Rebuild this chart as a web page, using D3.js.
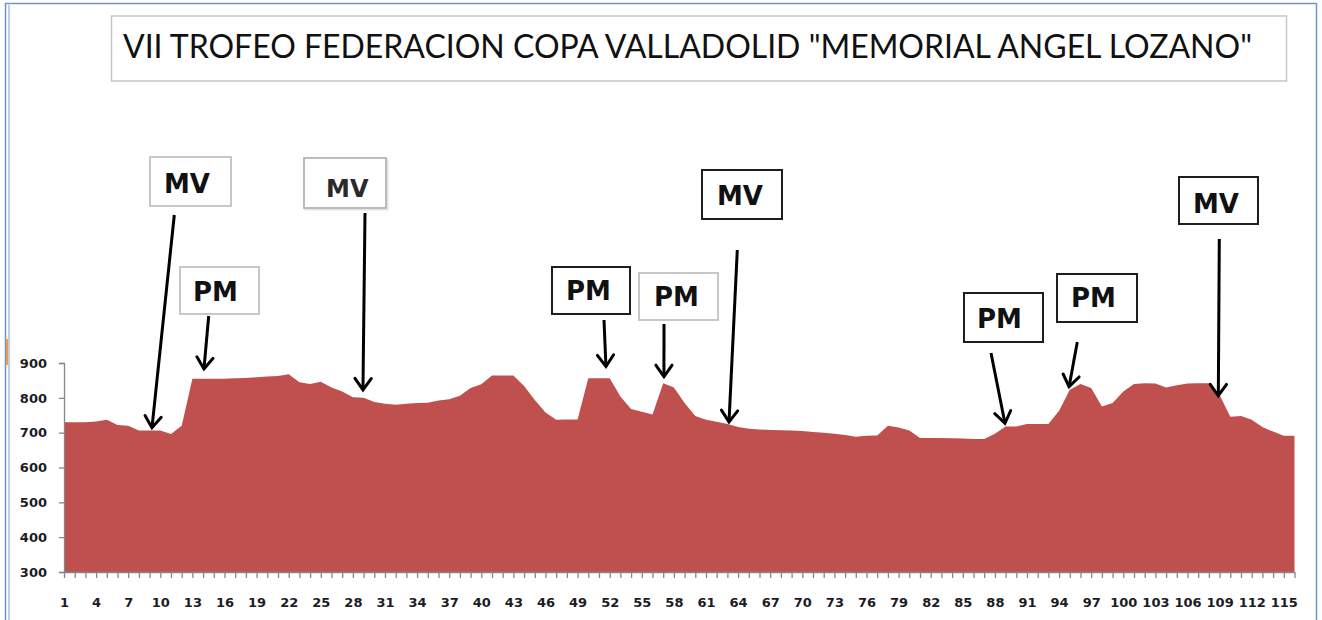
<!DOCTYPE html>
<html>
<head>
<meta charset="utf-8">
<script src="https://cdn.jsdelivr.net/npm/d3@7"></script>
<style>
  html, body { margin: 0; padding: 0; background: #fff; }
  svg { display: block; }
</style>
</head>
<body>
<svg id="chart" width="1322" height="620"></svg>
<script>
// ---------- data ----------
const title = 'VII TROFEO FEDERACION COPA VALLADOLID "MEMORIAL ANGEL LOZANO"';
const categories = d3.range(1, 117); // kilometre points 1..116
const altitude = [
  730, 730, 730, 732, 737, 722, 720, 706, 706, 706,
  696, 720, 855, 855, 855, 855, 856, 857, 859, 861,
  863, 868, 845, 840, 846, 830, 818, 802, 800, 788,
  783, 780, 783, 785, 786, 792, 796, 806, 828, 839,
  864, 864, 864, 834, 794, 758, 737, 738, 738, 856,
  856, 856, 804, 768, 760, 752, 842, 830, 785, 748,
  737, 731, 725, 716, 711, 709, 708, 707, 706, 705,
  702, 700, 697, 693, 688, 691, 692, 720, 715, 706,
  685, 685, 685, 684, 683, 682, 682, 697, 718, 718,
  725, 725, 725, 763, 823, 840, 828, 775, 785, 818,
  840, 842, 841, 830, 836, 841, 842, 842, 808, 746,
  748, 737, 716, 703, 691, 691
];
const yTicks = [300, 400, 500, 600, 700, 800, 900];
const xLabelStep = 3;

// annotation labels and the point (category position, altitude) each arrow indicates
const annLabels = ["MV", "PM", "MV", "PM", "PM", "MV", "PM", "PM", "MV"];
const annTargetCat = [9.22, 14.08, 28.94, 51.65, 57.07, 63.15, 88.94, 94.93, 108.88];
const annTargetAlt = [714, 883, 823, 890, 861, 731, 727, 832, 806];

// ---------- layout (pixels) ----------
const annLayout = [
  { box: [150, 157, 81, 49],  from: [174.3, 215], style: "gray",  tdx: 14, tdy: 36 },
  { box: [180, 267, 79, 47],  from: [208.7, 316], style: "gray",  tdx: 13, tdy: 34 },
  { box: [304, 158, 82, 50],  from: [365, 213],   style: "gray2", tdx: 22, tdy: 39 },
  { box: [552, 267, 78, 47],  from: [604, 320],   style: "black", tdx: 14, tdy: 33 },
  { box: [639, 273, 79, 47],  from: [664, 324],   style: "gray",  tdx: 15, tdy: 33 },
  { box: [702, 170, 80, 49],  from: [737.3, 250], style: "black", tdx: 15, tdy: 35 },
  { box: [964, 293, 79, 49],  from: [991, 353],   style: "black", tdx: 13, tdy: 35 },
  { box: [1057, 274, 80, 48], from: [1077.3, 342],style: "black", tdx: 14, tdy: 33 },
  { box: [1179, 177, 79, 47], from: [1219.3, 239],style: "black", tdx: 14, tdy: 36 }
];

const svg = d3.select("#chart");
const W = 1322, H = 620;

// outer chart frame
svg.append("rect").attr("x", 0).attr("y", 0).attr("width", W).attr("height", H).attr("fill", "#fff");
svg.append("rect")
  .attr("x", 5.5).attr("y", 3.5).attr("width", 1311).attr("height", 700)
  .attr("fill", "none").attr("stroke", "#6f95c9").attr("stroke-width", 1.5);
svg.append("line").attr("x1", 9).attr("x2", 9).attr("y1", 5).attr("y2", H)
  .attr("stroke", "#a9c1e2").attr("stroke-width", 1.5);
svg.append("line").attr("x1", 7).attr("x2", 7).attr("y1", 339).attr("y2", 365)
  .attr("stroke", "#f39a3c").attr("stroke-width", 2);

// title box
svg.append("rect")
  .attr("x", 111.5).attr("y", 16).attr("width", 1175).attr("height", 65)
  .attr("fill", "#fff").attr("stroke", "#c6c6c6").attr("stroke-width", 1.5);
svg.append("text")
  .attr("x", 123).attr("y", 57.5)
  .attr("font-family", "Lato, 'Open Sans', sans-serif")
  .attr("font-size", 33)
  .attr("fill", "#111")
  .attr("textLength", 1129)
  .attr("lengthAdjust", "spacingAndGlyphs")
  .text(title);

// ---------- scales ----------
const x = d3.scaleLinear().domain([1, 116]).range([64, 1294.5]);
const y = d3.scaleLinear().domain([300, 900]).range([572, 363]);

// area
const area = d3.area()
  .x((d, i) => x(categories[i]))
  .y0(y(300))
  .y1(d => y(d));
svg.append("path")
  .datum(altitude)
  .attr("d", area)
  .attr("fill", "#C0504D");

// axes
const axisColor = "#868686";
const labelColor = "#1c1c24";
const yAxis = svg.append("g")
  .attr("transform", `translate(${x(1)},0)`)
  .call(d3.axisLeft(y).tickValues(yTicks).tickSize(5).tickSizeOuter(5).tickPadding(12));
const xAxis = svg.append("g")
  .attr("transform", `translate(0,${y(300)})`)
  .call(d3.axisBottom(x).tickValues(categories).tickSize(6).tickSizeOuter(0).tickPadding(19.5)
    .tickFormat(d => ((d - 1) % xLabelStep === 0 ? String(d) : "")));
[yAxis, xAxis].forEach(g => {
  g.selectAll("path, line").attr("stroke", axisColor).attr("stroke-width", 1.3);
  g.selectAll("text")
    .attr("fill", labelColor)
    .attr("font-family", "'DejaVu Sans', sans-serif")
    .attr("font-weight", "bold")
    .attr("font-size", 13);
});

// ---------- annotations ----------
function arrowHead(tx, ty, fx, fy, len, ang) {
  const a = Math.atan2(fy - ty, fx - tx);
  const p1 = [tx + len * Math.cos(a + ang), ty + len * Math.sin(a + ang)];
  const p2 = [tx + len * Math.cos(a - ang), ty + len * Math.sin(a - ang)];
  return `M${p1[0]},${p1[1]}L${tx},${ty}L${p2[0]},${p2[1]}`;
}

const ann = svg.append("g");
annLabels.forEach((lab, k) => {
  const L = annLayout[k];
  const [bx, by, bw, bh] = L.box;
  const stroke = L.style === "black" ? "#1e1e1e" : (L.style === "gray2" ? "#b5b5b5" : "#c2c2c2");
  const sw = L.style === "black" ? 2 : 1.8;
  if (L.style === "gray2") {
    ann.append("rect").attr("x", bx + 1.5).attr("y", by + 1.5).attr("width", bw).attr("height", bh)
      .attr("fill", "none").attr("stroke", "#e4e4e4").attr("stroke-width", 2);
  }
  ann.append("rect").attr("x", bx).attr("y", by).attr("width", bw).attr("height", bh)
    .attr("fill", "#fff").attr("stroke", stroke).attr("stroke-width", sw);
  ann.append("text")
    .attr("x", bx + L.tdx).attr("y", by + L.tdy)
    .attr("font-family", "'DejaVu Sans', sans-serif")
    .attr("font-weight", "bold")
    .attr("font-size", L.style === "gray2" ? 24 : 26)
    .attr("fill", L.style === "gray2" ? "#2a2a2a" : "#111")
    .text(lab);
  const tx = x(annTargetCat[k]), ty = y(annTargetAlt[k]);
  const [fx, fy] = L.from;
  ann.append("line").attr("x1", fx).attr("y1", fy).attr("x2", tx).attr("y2", ty)
    .attr("stroke", "#000").attr("stroke-width", 3);
  ann.append("path").attr("d", arrowHead(tx, ty, fx, fy, 14, 0.62))
    .attr("fill", "none").attr("stroke", "#000").attr("stroke-width", 3)
    .attr("stroke-linejoin", "miter").attr("stroke-linecap", "round");
});
</script>
</body>
</html>
